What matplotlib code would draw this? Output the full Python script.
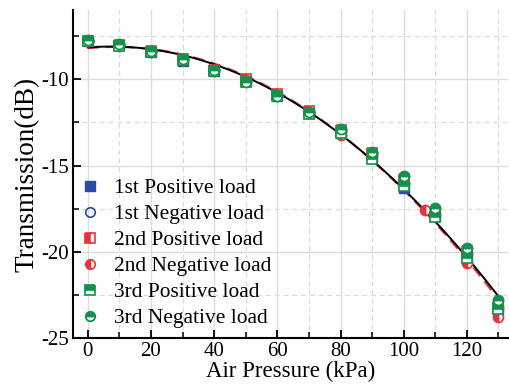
import numpy as np
import matplotlib.pyplot as plt
from matplotlib.ticker import MultipleLocator

plt.rcParams['font.family'] = ['Liberation Serif', 'DejaVu Serif']
plt.rcParams['axes.unicode_minus'] = False

pressure = [0, 10, 20, 30, 40, 50, 60, 70, 80, 90, 100, 110, 120, 130]
pos1 = [-7.8, -8.0, -8.4, -8.95, -9.5, -10.1, -10.95, -11.95, -13.1, -14.5, -16.3, -17.9, -20.3, -23.3]
neg1 = [-7.8, -8.0, -8.35, -8.85, -9.45, -10.05, -10.9, -11.9, -13.0, -14.35, -16.0, -17.85, -20.1, -23.25]
pos2 = [-7.8, -8.0, -8.35, -8.85, -9.45, -10.0, -10.85, -11.85, -12.95, -14.3, -15.8, -17.7, -19.95, -23.2]
neg2_x = [0, 10, 20, 30, 40, 50, 60, 70, 80, 90, 100, 106.7, 120, 130]
neg2 = [-7.8, -8.05, -8.4, -8.9, -9.5, -10.05, -10.9, -11.95, -13.25, -14.5, -16.0, -17.6, -20.65, -23.8]
pos3 = [-7.8, -8.05, -8.45, -8.9, -9.5, -10.15, -11.0, -12.0, -13.1, -14.6, -16.2, -18.0, -20.35, -23.3]
neg3 = [-7.75, -7.95, -8.35, -8.85, -9.45, -10.15, -10.95, -11.9, -12.9, -14.2, -15.6, -17.45, -19.8, -22.8]

blue = '#2B4BA0'
red = '#E8333A'
green = '#12924A'

fig = plt.figure(figsize=(5.1, 3.9), dpi=100)
ax = fig.add_axes([0.143, 0.133, 0.853, 0.841])

# curvas de ajuste (cuadraticas)
xf = np.linspace(0, 130, 200)
all_x = np.concatenate([pressure] * 5 + [neg2_x])
all_y = np.concatenate([pos1, neg1, pos2, pos3, neg3, neg2])
c_all = np.polyfit(all_x, all_y, 2)
c_red = np.polyfit(np.concatenate([pressure, neg2_x]), np.concatenate([pos2, neg2]), 2)
ax.plot(xf, np.polyval(c_red, xf), color=red, lw=1.6, ls=(0, (5, 3)), zorder=3)
ax.plot(xf, np.polyval(c_all, xf), color='black', lw=1.4, zorder=4)

ms = 7.2
ax.plot(pressure, pos1, 's', color=blue, ms=ms, mec=blue, label='1st Positive load', zorder=5)
ax.plot(pressure, neg1, 'o', color=blue, mfc='none', ms=ms, mew=1.2, label='1st Negative load', zorder=5)
ax.plot(pressure, pos2, 's', color=red, fillstyle='left', mfc=red, mfcalt='white', ms=ms, mew=1.2,
        label='2nd Positive load', zorder=6)
ax.plot(neg2_x, neg2, 'o', color=red, fillstyle='left', mfc=red, mfcalt='white', ms=ms, mew=1.2,
        label='2nd Negative load', zorder=6)
ax.plot(pressure, pos3, 's', color=green, fillstyle='top', mfc=green, mfcalt='white', ms=ms, mew=1.2,
        label='3rd Positive load', zorder=7)
ax.plot(pressure, neg3, 'o', color=green, fillstyle='top', mfc=green, mfcalt='white', ms=ms, mew=1.3,
        label='3rd Negative load', zorder=7)

ax.set_xlim(-4.7, 133)
ax.set_ylim(-25, -6)
ax.xaxis.set_major_locator(MultipleLocator(20))
ax.xaxis.set_minor_locator(MultipleLocator(10))
ax.yaxis.set_major_locator(MultipleLocator(5))
ax.yaxis.set_minor_locator(MultipleLocator(2.5))

ax.grid(True, which='major', color='#dcdcdc', lw=1.0, ls='-')
ax.grid(True, which='minor', color='#dcdcdc', lw=0.9, ls=(0, (4, 3)))
ax.set_axisbelow(True)

for s in ['top', 'right']:
    ax.spines[s].set_visible(False)
for s in ['left', 'bottom']:
    ax.spines[s].set_linewidth(1.5)

ax.tick_params(which='major', direction='in', length=6, width=1.3, labelsize=15, pad=3)
ax.tick_params(which='minor', direction='in', length=4, width=1.1)

ax.set_xlabel('Air Pressure (kPa)', fontsize=16.5, labelpad=0)
ax.set_ylabel('Transmission(dB)', fontsize=19.5, labelpad=1)

ax.legend(loc='lower left', bbox_to_anchor=(0.015, 0.03), borderaxespad=0, borderpad=0,
          frameon=False, fontsize=15.4, handlelength=1.0, handletextpad=0.6,
          labelspacing=0.28, markerscale=0.95)

fig.savefig('out.png', dpi=100)
